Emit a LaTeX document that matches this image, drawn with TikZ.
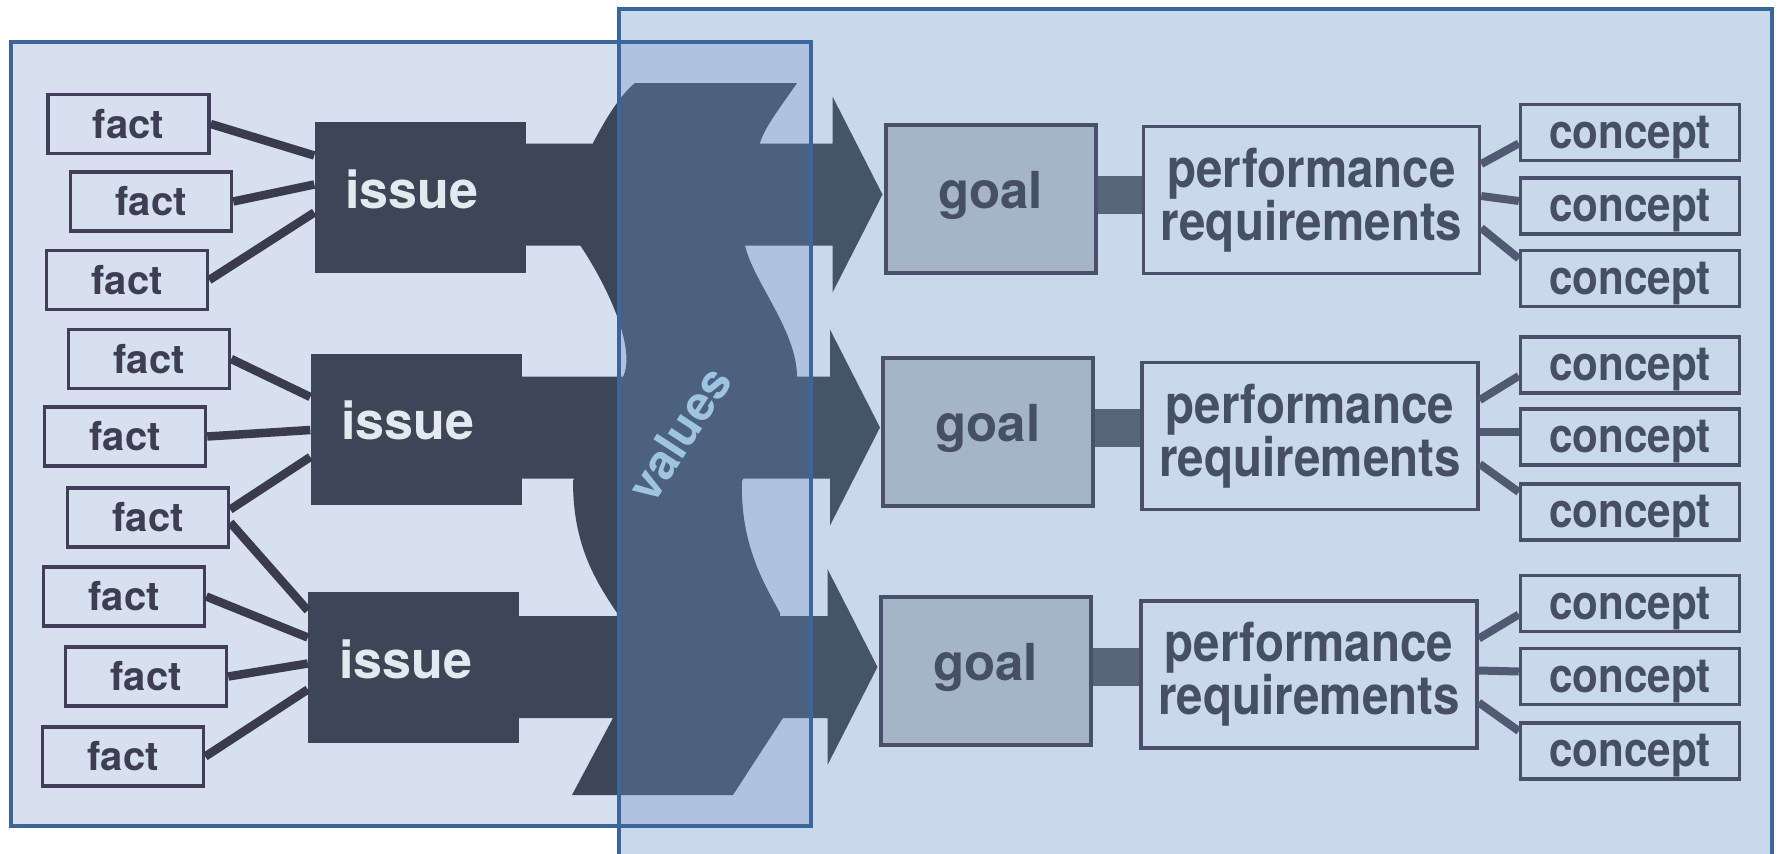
\documentclass[tikz,border=0pt]{standalone}
\usepackage{fontspec}
\setmainfont{TeX Gyre Heros}
\newfontfamily\narrowfont[FakeStretch=0.88]{TeX Gyre Heros}
\usetikzlibrary{calc}
\definecolor{bgc}{RGB}{214,224,238}
\definecolor{darkc}{RGB}{60,70,86}
\definecolor{boxc}{RGB}{66,62,88}
\definecolor{txtc}{RGB}{62,62,82}
\definecolor{goalfill}{RGB}{172,182,198}
\definecolor{issuetxt}{RGB}{226,234,240}
\definecolor{bandc}{RGB}{82,90,106}
\definecolor{clinkc}{RGB}{75,75,98}
\definecolor{linkc}{RGB}{58,60,78}
\definecolor{bluec}{RGB}{58,102,155}
\definecolor{tintR}{RGB}{127,177,218}
\definecolor{tintO}{RGB}{97,133,191}
\definecolor{valtxt}{RGB}{158,196,226}
\newcommand\bandarrow[2]{%
  \fill[darkc] let \p1=(#1.east), \p2=($(#2.west)+(0,-4)$) in
  (\x1-2pt,\y2+51pt) -- (\x2-51pt,\y2+51pt) -- (\x2-51pt,\y2+98pt) --
  (\x2-1pt,\y2) -- (\x2-51pt,\y2-98pt) -- (\x2-51pt,\y2-51pt) --
  (\x1-2pt,\y2-51pt) -- cycle;}
\tikzset{
  factbox/.style={draw=boxc, line width=3.5pt, minimum width=161pt, minimum height=59pt,
    inner sep=0pt, font=\fontsize{40}{44}\selectfont\bfseries, text=txtc},
  issuebox/.style={fill=darkc, minimum width=211pt, minimum height=151pt, inner sep=0pt,
    text height=21pt, text depth=0pt,
    font=\fontsize{52}{55}\selectfont\bfseries, text=issuetxt},
  goalbox/.style={fill=goalfill, draw=boxc, line width=4pt, minimum width=210pt,
    minimum height=148pt, inner sep=0pt, text height=19pt, text depth=0pt,
    font=\fontsize{51}{55}\selectfont\bfseries, text=txtc},
  perfbox/.style={draw=boxc, line width=3.5pt, minimum width=336pt, minimum height=147pt,
    inner sep=0pt, align=center, font=\narrowfont\fontsize{54}{40}\selectfont\bfseries, text=txtc},
  conceptbox/.style={draw=boxc, line width=3.5pt, minimum width=219pt, minimum height=56pt,
    inner sep=0pt, text height=31pt, text depth=0pt,
    font=\narrowfont\fontsize{48}{50}\selectfont\bfseries, text=txtc},
  flink/.style={draw=linkc, line width=8.5pt},
  clink/.style={draw=clinkc, line width=8pt},
  gband/.style={draw=bandc, line width=38pt},
}
\begin{document}
\begin{tikzpicture}[x=1pt,y=-1pt]
\useasboundingbox (0,0) rectangle (1781,854);
\fill[white] (0,0) rectangle (1781,854);
\fill[bgc] (11,42) rectangle (811,826);
\fill[bgc] (619,9) rectangle (1772,860);

% facts
\node[factbox] (f1) at (128.5,124) {fact};
\node[factbox] (f2) at (151,201.5) {fact};
\node[factbox] (f3) at (127,280) {fact};
\node[factbox] (f4) at (149,359) {fact};
\node[factbox] (f5) at (125,436.5) {fact};
\node[factbox] (f6) at (148,517.5) {fact};
\node[factbox] (f7) at (124,596.5) {fact};
\node[factbox] (f8) at (146,676.5) {fact};
\node[factbox] (f9) at (123,756.5) {fact};

% issues
\node[issuebox] (i1) at (420,197.5) {\hspace*{-16pt}issue};
\node[issuebox] (i2) at (416,429) {\hspace*{-16pt}issue};
\node[issuebox] (i3) at (413.5,667.5) {\hspace*{-16pt}issue};

% goals (positions)
\path (990.5,198.5) coordinate (g1c) (988,431.5) coordinate (g2c) (985.5,671) coordinate (g3c);
\node[goalbox] (g1) at (g1c) {goal};
\node[goalbox] (g2) at (g2c) {goal};
\node[goalbox] (g3) at (g3c) {goal};

% performance requirements
\node[perfbox] (p1) at (1311.5,200) {performance\\requirements};
\node[perfbox] (p2) at (1310,436) {performance\\requirements};
\node[perfbox] (p3) at (1309,674.5) {performance\\requirements};

% concepts
\node[conceptbox] (c11) at (1630,132.5) {concept};
\node[conceptbox] (c12) at (1630,206) {concept};
\node[conceptbox] (c13) at (1630,278.5) {concept};
\node[conceptbox] (c21) at (1630,365) {concept};
\node[conceptbox] (c22) at (1630,437) {concept};
\node[conceptbox] (c23) at (1630,512) {concept};
\node[conceptbox] (c31) at (1630,603.5) {concept};
\node[conceptbox] (c32) at (1630,676.5) {concept};
\node[conceptbox] (c33) at (1630,751) {concept};

% fact -> issue connectors
\draw[flink] (f1.east) -- ($(i1.west)+(0,-42)$);
\draw[flink] (f2.east) -- ($(i1.west)+(0,-13)$);
\draw[flink] (f3.east) -- ($(i1.west)+(0,15)$);
\draw[flink] (f4.east) -- ($(i2.west)+(0,-32)$);
\draw[flink] (f5.east) -- ($(i2.west)+(0,1)$);
\draw[flink] ($(f6.east)+(0,-8)$) -- ($(i2.west)+(0,28)$);
\draw[flink] ($(f6.east)+(0,5)$) -- ($(i3.west)+(0,-57)$);
\draw[flink] (f7.east) -- ($(i3.west)+(0,-30)$);
\draw[flink] (f8.east) -- ($(i3.west)+(0,-4)$);
\draw[flink] (f9.east) -- ($(i3.west)+(0,22)$);

% values ribbon
\fill[darkc] (635,83) -- (797,83) .. controls (782,105) and (764,128) .. (760,143)
  -- (745,245) .. controls (752,280) and (797,330) .. (797,377)
  -- (742,481) .. controls (740,545) and (765,585) .. (780,613)
  -- (783,718) -- (733,795) -- (572,795) -- (613,718)
  -- (617,613) .. controls (595,580) and (573,545) .. (573,481)
  -- (623,377) .. controls (636,350) and (610,290) .. (580,245)
  -- (593,143) .. controls (605,120) and (620,95) .. (635,83) -- cycle;

% issue -> goal bands with arrow heads
\bandarrow{i1}{g1}
\bandarrow{i2}{g2}
\bandarrow{i3}{g3}

% goal -> performance bands
\draw[gband] ($(g1.east)+(0,-4)$) -- ($(g1.east -| p1.west)+(0,-4)$);
\draw[gband] ($(g2.east)+(0,-4)$) -- ($(g2.east -| p2.west)+(0,-4)$);
\draw[gband] ($(g3.east)+(0,-4)$) -- ($(g3.east -| p3.west)+(0,-4)$);
\node[goalbox] at (g1c) {goal};
\node[goalbox] at (g2c) {goal};
\node[goalbox] at (g3c) {goal};

% performance -> concept connectors
\draw[clink] ($(p1.east)+(0,-36)$) -- ($(c11.west)+(0,11)$);
\draw[clink] ($(p1.east)+(0,-4)$) -- ($(c12.west)+(0,-5)$);
\draw[clink] ($(p1.east)+(0,28)$) -- ($(c13.west)+(0,-20)$);
\draw[clink] ($(p2.east)+(0,-36)$) -- ($(c21.west)+(0,11)$);
\draw[clink] ($(p2.east)+(0,-4)$) -- ($(c22.west)+(0,-5)$);
\draw[clink] ($(p2.east)+(0,28)$) -- ($(c23.west)+(0,-20)$);
\draw[clink] ($(p3.east)+(0,-36)$) -- ($(c31.west)+(0,11)$);
\draw[clink] ($(p3.east)+(0,-4)$) -- ($(c32.west)+(0,-5)$);
\draw[clink] ($(p3.east)+(0,28)$) -- ($(c33.west)+(0,-20)$);

% tints of the two panels
\fill[tintR, opacity=0.15] (619,9) rectangle (1772,860);
\fill[tintO, opacity=0.25] (619,42) rectangle (811,826);

\node[rotate=57, text=valtxt, font=\fontsize{48}{50}\selectfont\bfseries] (vals) at (679,434) {values};

% panel borders
\draw[bluec, line width=4pt] (11,42) rectangle (811,826);
\draw[bluec, line width=4pt] (619,870) -- (619,9) -- (1772,9) -- (1772,870);
\end{tikzpicture}
\end{document}
